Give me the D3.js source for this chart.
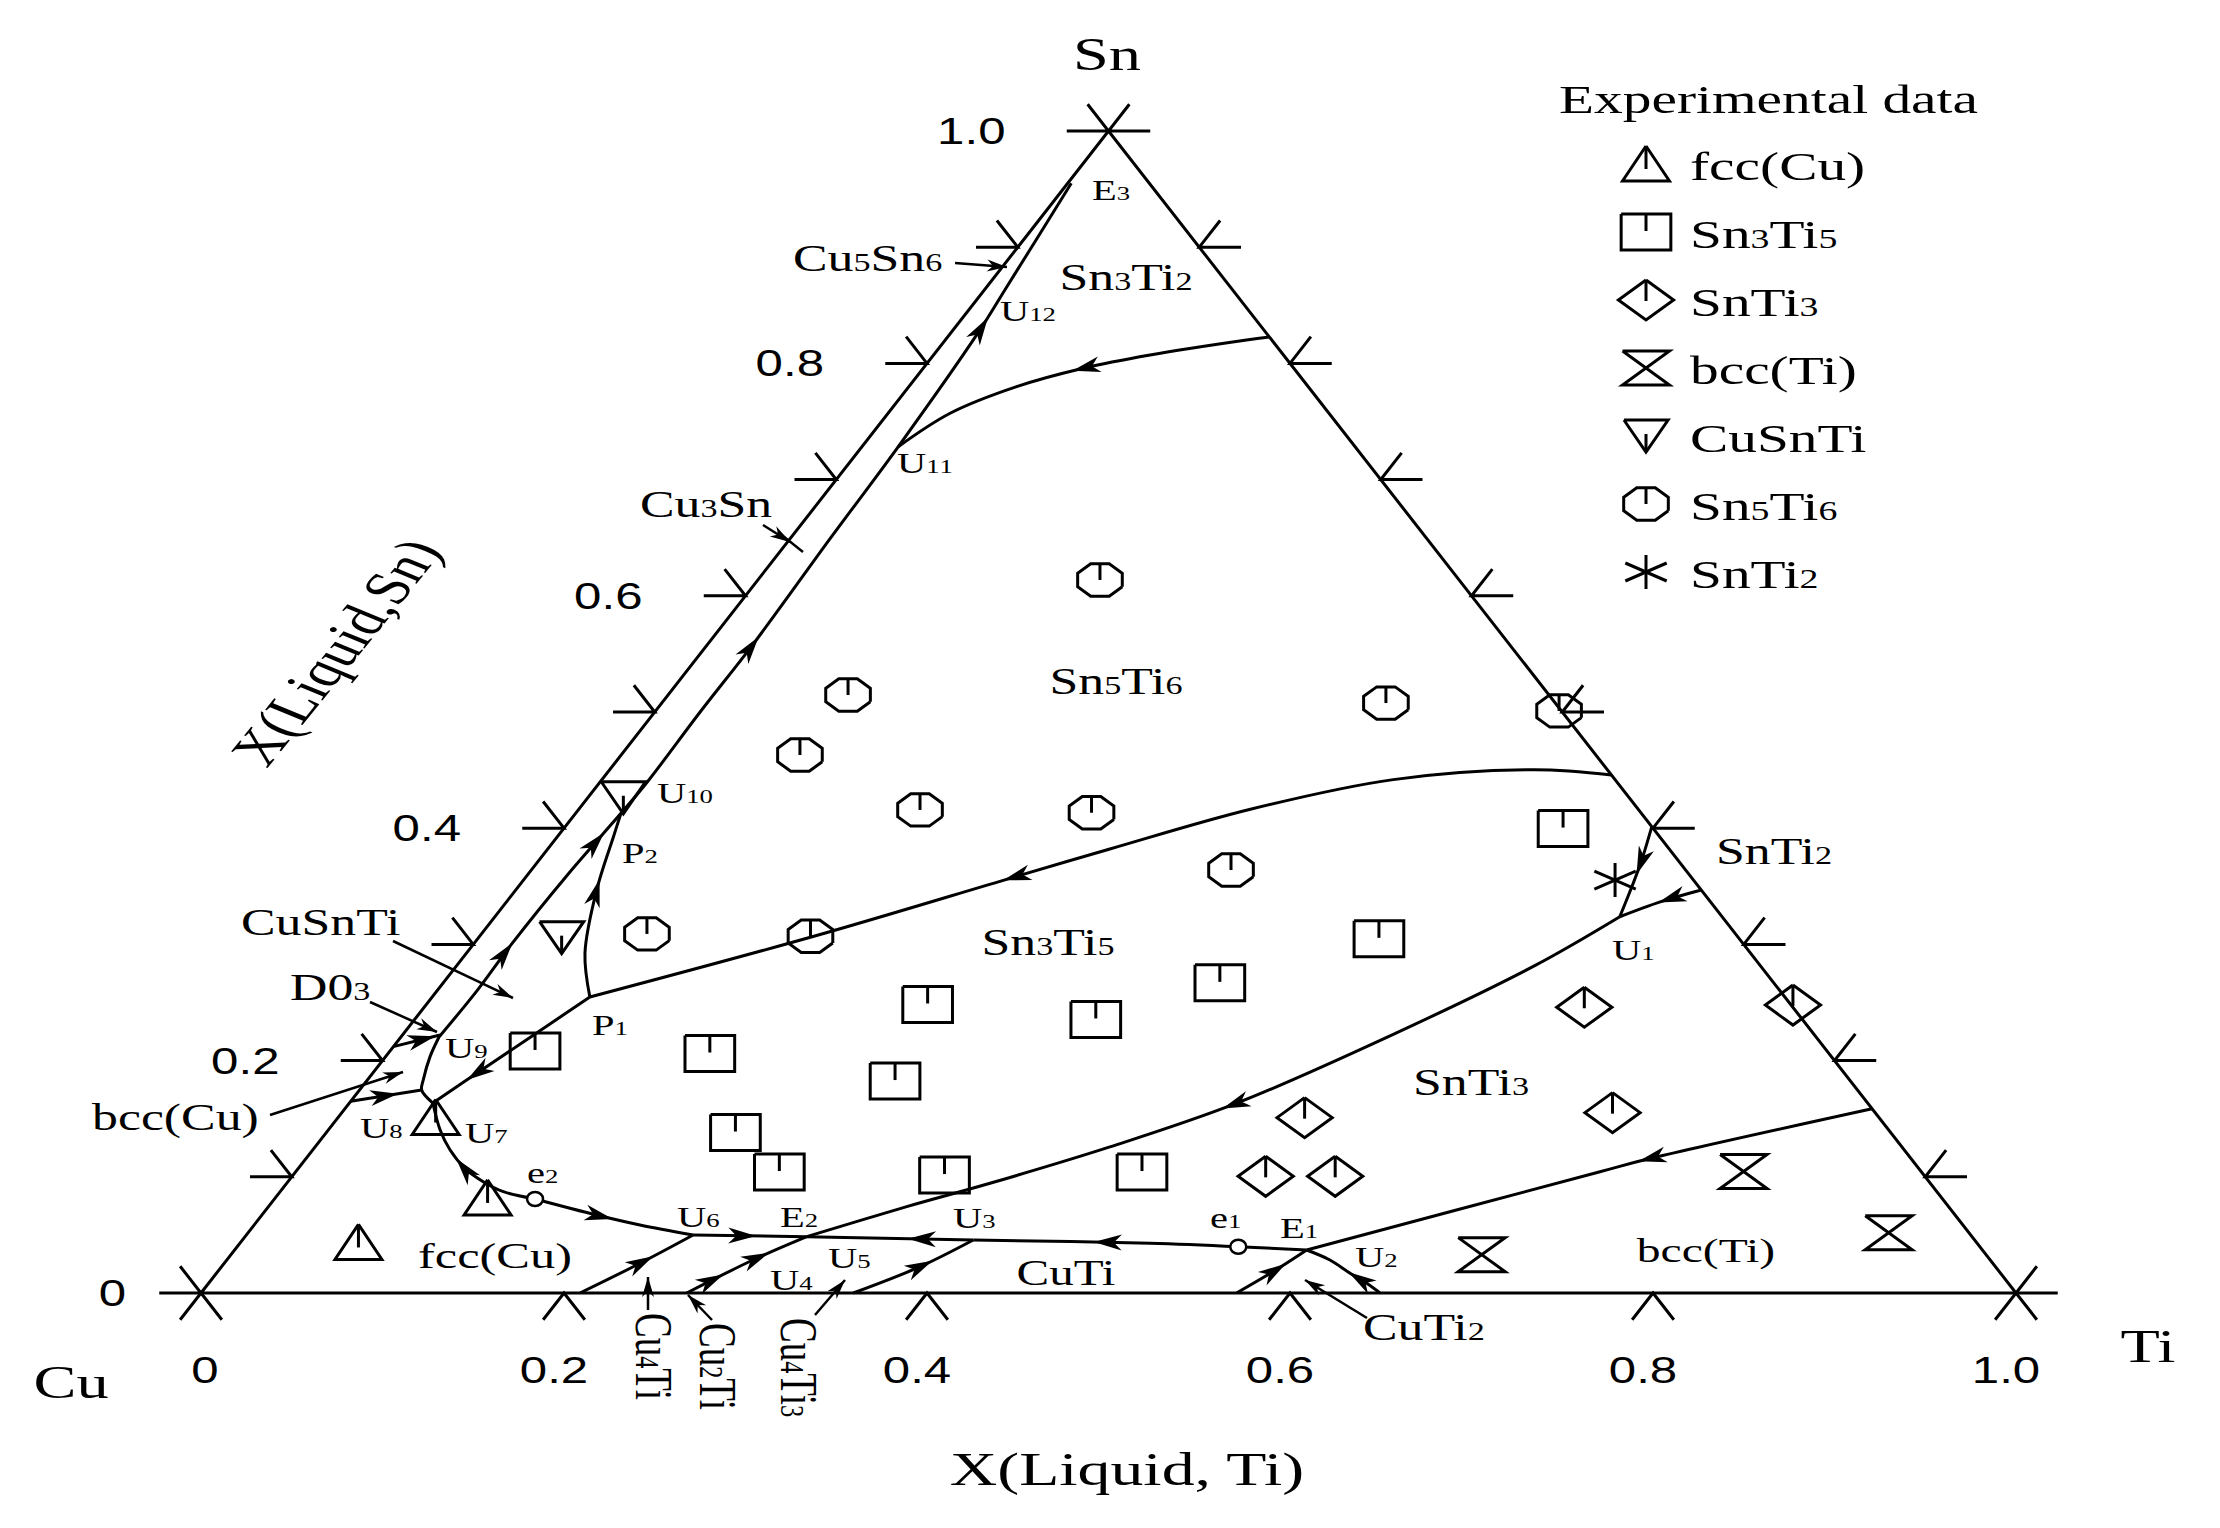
<!DOCTYPE html>
<html><head><meta charset="utf-8">
<script src="https://cdn.jsdelivr.net/npm/d3@7"></script>
<style>body{margin:0;background:#fff}svg{display:block}</style>
</head><body>
<svg id="c" width="2220" height="1528"></svg>
<script>
// ---------- DATA (compositions as [x(Ti), x(Sn)]) ----------
const bottomTicks = [0, 0.2, 0.4, 0.6, 0.8, 1.0];
const sideTicks = [0, 0.1, 0.2, 0.3, 0.4, 0.5, 0.6, 0.7, 0.8, 0.9, 1.0];
const sideTickLabels = [0, 0.2, 0.4, 0.6, 0.8, 1.0];

// univariant lines (stored in the direction of falling temperature)
const lineEdgeU11 = [[0.1773,0.8227],[0.1660,0.8201],[0.1193,0.8072],[0.0882,0.7958],[0.0594,0.7800],[0.0342,0.7571],[0.0200,0.7283]];
const lineU9E3 = [[0.021,0.221],[0.022,0.26],[0.021,0.30],[0.022,0.36],[0.025,0.413],[0.026,0.44],[0.025,0.50],[0.025,0.56],[0.022,0.65],[0.020,0.728],[0.015,0.826],[0.011,0.866],[0.007,0.906],[0.002,0.955]];
const lineEdgeP1 = [[0.5542,0.4458],[0.5097,0.4503],[0.4360,0.4418],[0.3705,0.4165],[0.3097,0.3821],[0.2683,0.3575],[0.1842,0.3070],[0.0869,0.2547]];
const lineP1P2 = [[0.0869,0.2547],[0.0654,0.2923],[0.0446,0.3468],[0.0309,0.3927],[0.0250,0.4128]];
const lineP1U7 = [[0.0869,0.2547],[0.0574,0.1891],[0.0460,0.1635]];
const lineU9U7 = [[0.0207,0.2220],[0.0245,0.2034],[0.0308,0.1833],[0.0342,0.1747],[0.0460,0.1635]];
const lineEdgeU8 = [[0.0,0.165],[0.0342,0.1747]];
const lineEdgeU9 = [[0.0,0.212],[0.0207,0.2220]];
const lineE2U7 = [[0.1436,0.0809],[0.1230,0.0872],[0.1076,0.0958],[0.0918,0.1073],[0.0757,0.1231],[0.0616,0.1403],[0.0460,0.1635]];
const lineE2U6 = [[0.1436,0.0809],[0.1844,0.0671],[0.2126,0.0585],[0.2462,0.0499]];
const lineU6E2 = [[0.2462,0.0499],[0.3095,0.0485]];
const lineU3E2 = [[0.4027,0.0456],[0.3095,0.0485]];
const lineE1U3 = [[0.5516,0.0398],[0.5015,0.0428],[0.4027,0.0456]];
const lineE1E1 = [[0.5516,0.0398],[0.5907,0.0370]];
const lineCu4Ti = [[0.2088,0],[0.2291,0.0256],[0.2462,0.0499]];
const lineCu2Ti = [[0.2676,0],[0.2899,0.0284],[0.3095,0.0485]];
const lineCu4Ti3 = [[0.3594,0],[0.3848,0.0226],[0.4027,0.0456]];
const lineCuTiE1 = [[0.5706,0],[0.5815,0.0183],[0.5907,0.0370]];
const lineCuTi2E1 = [[0.6496,0],[0.6381,0.0083],[0.6246,0.0170],[0.6078,0.0284],[0.5907,0.0370]];
const lineEdgeE1 = [[0.8414,0.1586],[0.7395,0.1153],[0.7186,0.1044],[0.5907,0.0370]];
const lineU1E2 = [[0.6198,0.3238],[0.5940,0.2817],[0.5456,0.2226],[0.4892,0.1636],[0.4379,0.1257],[0.3875,0.0944],[0.3517,0.0743],[0.3095,0.0485]];
const lineEdgeU1a = [[0.5987,0.4013],[0.6075,0.3726],[0.6128,0.3526],[0.6198,0.3238]];
const lineEdgeU1b = [[0.6532,0.3468],[0.6360,0.3368],[0.6198,0.3238]];

// binary points
const binaryPoints = [[0.1436,0.0809],[0.5516,0.0398]];

// experimental data
const expFccCu = [[0.0538,0.151],[0.117,0.0818],[0.065,0.0435]];
const expSn3Ti5 = [[0.5506,0.3997],[0.4966,0.3048],[0.4279,0.2669],[0.3753,0.2354],[0.2762,0.2483],[0.1773,0.2061],[0.0799,0.2083],[0.2912,0.1824],[0.2254,0.1381],[0.2666,0.1041],[0.3589,0.1015],[0.4664,0.1041]];
const expSnTi3 = [[0.7532,0.2478],[0.6392,0.2459],[0.5326,0.1509],[0.7001,0.1552],[0.5364,0.1004],[0.5747,0.1004]];
const expBccTi = [[0.7976,0.1046],[0.9039,0.0519],[0.6891,0.0330]];
const expCuSnTi = [[0.0196,0.4262],[0.0458,0.3058]];
const expSn5Ti6 = [[0.1885,0.6136],[0.0992,0.5146],[0.0985,0.4630],[0.1883,0.4157],[0.2840,0.4133],[0.3990,0.5077],[0.4978,0.5009],[0.3855,0.3640],[0.0912,0.3090],[0.1823,0.3070]];
const expSnTi2 = [[0.6014,0.3554]];

const legendNames = ['fcc(Cu)','Sn_3Ti_5','SnTi_3','bcc(Ti)','CuSnTi','Sn_5Ti_6','SnTi_2'];
const legendShapes = ['triUp','square','diamond','hourglass','triDown','octagon','star'];

// ---------- LAYOUT ----------
const SERIF = "'Liberation Serif','Times New Roman',serif";
const SANS = "'Liberation Sans',Arial,sans-serif";
const STRETCH = 1.4;
const X = d3.scaleLinear().domain([0,1]).range([201,2016]);
const Y = d3.scaleLinear().domain([0,1]).range([1293,131]);
const P = d => [X(d[0] + d[1]/2), Y(d[1])];

const svg = d3.select('#c');
svg.append('rect').attr('width',2220).attr('height',1528).attr('fill','#fff');

function addText(parent, x, y, s, o) {
  const sx = o.sx ?? STRETCH;
  const t = parent.append('text')
    .attr('transform', `translate(${x},${y}) scale(${sx},1)` + (o.rot ? ` rotate(${o.rot})` : ''))
    .attr('font-family', o.family || SERIF)
    .attr('font-size', o.size)
    .attr('text-anchor', o.anchor || 'start')
    .attr('fill', '#000');
  let i = 0;
  while (i < s.length) {
    if (s[i] === '_') { t.append('tspan').attr('font-size', o.size*0.66).text(s[i+1]); i += 2; }
    else { let j = i; while (j < s.length && s[j] !== '_') j++; t.append('tspan').text(s.slice(i,j)); i = j; }
  }
  return t;
}

// triangle frame
const frame = svg.append('g').attr('fill','none').attr('stroke','#000').attr('stroke-width',3);
frame.append('path').attr('d', d3.line()([[0,0],[1,0],[0,1],[0,0]].map(P))).attr('stroke-linejoin','miter');

const TL = 0.023;
sideTicks.forEach(v => {
  frame.append('path').attr('d', d3.line()([[-TL,v],[0,v],[-TL,v+TL]].map(P)));
  frame.append('path').attr('d', d3.line()([[1-v+TL,v],[1-v,v],[1-v,v+TL]].map(P)));
});
bottomTicks.forEach(v => {
  frame.append('path').attr('d', d3.line()([[v,-TL],[v,0],[v+TL,-TL]].map(P)));
});

// tick labels
const tl = svg.append('g');
const fmt = v => v === 0 ? '0' : d3.format('.1f')(v);
sideTickLabels.forEach(v => {
  const [x,y] = P([0,v]);
  addText(tl, x - (v === 0 ? 75 : 103), y+13, fmt(v), {size:37, family:SANS, anchor:'end', sx:1.33});
});
bottomTicks.forEach(v => {
  const [x,y] = P([v,0]);
  addText(tl, x - (v === 0 ? -4 : 10), y+90, fmt(v), {size:37, family:SANS, anchor:'middle', sx:1.33});
});

// axis titles
addText(svg, 1107, 70, 'Sn', {size:46, anchor:'middle'});
addText(svg, 71, 1398, 'Cu', {size:46, anchor:'middle'});
addText(svg, 2148, 1362, 'Ti', {size:46, anchor:'middle'});
addText(svg, 1127, 1485, 'X(Liquid, Ti)', {size:47, anchor:'middle'});
addText(svg, 355, 660, 'X(Liquid,Sn)', {size:47, anchor:'middle', rot:-60});

// ---------- univariant lines with arrows ----------
const lines = [
  {d:lineEdgeU11, a:[0.48]},
  {d:lineU9E3, a:[0.10,0.235,0.47,0.84]},
  {d:lineEdgeP1, a:[0.58]},
  {d:lineP1P2, a:[0.57]},
  {d:lineP1U7, a:[0.72]},
  {d:lineU9U7, a:[]},
  {d:lineEdgeU8, a:[0.5]},
  {d:lineEdgeU9, a:[0.65]},
  {d:lineE2U7, a:[0.52]},
  {d:lineE2U6, a:[0.42]},
  {d:lineU6E2, a:[0.45]},
  {d:lineU3E2, a:[0.32]},
  {d:lineE1U3, a:[0.5]},
  {d:lineE1E1, a:[]},
  {d:lineCu4Ti, a:[0.55]},
  {d:lineCu2Ti, a:[0.22,0.6]},
  {d:lineCu4Ti3, a:[0.56]},
  {d:lineCuTiE1, a:[0.55]},
  {d:lineCuTi2E1, a:[0.3]},
  {d:lineEdgeE1, a:[0.39]},
  {d:lineU1E2, a:[0.49]},
  {d:lineEdgeU1a, a:[0.4]},
  {d:lineEdgeU1b, a:[0.38]},
];
const gl = svg.append('g');
const lineGen = d3.line().curve(d3.curveCatmullRom.alpha(0.5));
const head = 'M0,0 L-28,-8 L-20,0 L-28,8 Z';
lines.forEach(L => {
  const p = gl.append('path').attr('d', lineGen(L.d.map(P))).attr('fill','none')
    .attr('stroke','#000').attr('stroke-width',3);
  const node = p.node(), len = node.getTotalLength();
  L.a.forEach(t => {
    const s = t*len + 12;
    const a = node.getPointAtLength(Math.min(len, s)), b = node.getPointAtLength(Math.max(0, s-4));
    const ang = Math.atan2(a.y-b.y, a.x-b.x)*180/Math.PI;
    gl.append('path').attr('d', head).attr('fill','#000')
      .attr('transform', `translate(${a.x},${a.y}) rotate(${ang})`);
  });
});
binaryPoints.forEach(d => {
  const [x,y] = P(d);
  gl.append('ellipse').attr('cx',x).attr('cy',y).attr('rx',8).attr('ry',7).attr('fill','#fff').attr('stroke','#000').attr('stroke-width',2.5);
});

// ---------- markers ----------
function marker(parent, type, x, y) {
  const g = parent.append('g').attr('transform', `translate(${x},${y}) scale(1.38,1)`)
    .attr('fill','none').attr('stroke','#000').attr('stroke-width',3);
  const seg = (pts) => g.append('path').attr('d', d3.line()(pts)).attr('vector-effect','non-scaling-stroke');
  if (type === 'triUp') { seg([[0,-18],[17,17],[-17,17],[0,-18]]); seg([[0,-18],[0,5]]); }
  if (type === 'square') { seg([[-18,-18],[18,-18],[18,18],[-18,18],[-18,-18]]); seg([[0,-18],[0,-1]]); }
  if (type === 'diamond') { seg([[0,-20],[20,0],[0,20],[-20,0],[0,-20]]); seg([[0,-20],[0,1]]); }
  if (type === 'hourglass') { seg([[-17,-17],[17,-17],[-17,17],[17,17],[-17,-17]]); }
  if (type === 'triDown') { seg([[-16,-16],[16,-16],[0,16],[-16,-16]]); seg([[0,-2],[0,16]]); }
  if (type === 'octagon') {
    const pts = d3.range(9).map(i => { const a = (i*45+22.5)*Math.PI/180; return [17.5*Math.cos(a), 17.5*Math.sin(a)]; });
    seg(pts); seg([[0,-16.5],[0,0]]);
  }
  if (type === 'star') { seg([[0,-17],[0,17]]); seg([[-15,-9],[15,9]]); seg([[-15,9],[15,-9]]); }
}
const gm = svg.append('g');
[[expFccCu,'triUp'],[expSn3Ti5,'square'],[expSnTi3,'diamond'],[expBccTi,'hourglass'],
 [expCuSnTi,'triDown'],[expSn5Ti6,'octagon'],[expSnTi2,'star']].forEach(([arr,type]) => {
  arr.forEach(d => { const [x,y] = P(d); marker(gm, type, x, y); });
});

// ---------- legend ----------
const lg = svg.append('g');
addText(lg, 1559, 113, 'Experimental data', {size:41});
legendNames.forEach((n,i) => {
  const y = 164 + i*68;
  marker(lg, legendShapes[i], 1646, y);
  addText(lg, 1690, y+16, n, {size:41});
});

// ---------- annotations ----------
const ann = svg.append('g');
const regionLabels = [
  ['Sn_3Ti_2',1126,290,37],['Sn_5Ti_6',1116,694,37],['Sn_3Ti_5',1048,955,37],['SnTi_3',1471,1095,37],
  ['SnTi_2',1774,864,37],['bcc(Ti)',1706,1262,34],['CuTi',1066,1285,35],['fcc(Cu)',495,1268,36]];
regionLabels.forEach(([s,x,y,f]) => addText(ann, x, y, s, {size:f, anchor:'middle'}));

const pointLabels = [
  ['E_3',1092,200],['U_1_2',1000,321],['U_1_1',897,473],['U_1_0',657,803],['P_2',622,863],['P_1',592,1035],
  ['U_9',445,1058],['U_8',360,1138],['U_7',465,1143],['e_2',527,1183],['U_6',677,1227],['E_2',780,1227],
  ['U_3',953,1228],['U_5',828,1268],['U_4',770,1290],['e_1',1210,1228],['E_1',1280,1238],['U_2',1355,1267],['U_1',1612,960]];
pointLabels.forEach(([s,x,y]) => addText(ann, x, y, s, {size:30, sx:1.35}));

const pointerLabels = [
  ['Cu_5Sn_6',793,271,0],['Cu_3Sn',640,517,0],['CuSnTi',241,935,0],['D0_3',290,1000,0],['bcc(Cu)',92,1130,0],
  ['CuTi_2',1363,1340,0],['Cu_4Ti',636,1313,90],['Cu_2Ti',700,1323,90],['Cu_4Ti_3',781,1318,90]];
pointerLabels.forEach(([s,x,y,r]) => addText(ann, x, y, s, {size:37, rot:r}));

const pointerArrows = [
  [[955,263],[1007,267]],[[763,525],[790,542]],[[393,941],[513,998]],[[370,1002],[437,1032]],
  [[270,1115],[403,1072]],[[648,1310],[648,1277]],[[712,1320],[688,1295]],[[815,1315],[845,1280]],
  [[1367,1318],[1305,1280]]];
const smallHead = 'M0,0 L-20,-6 L-14,0 L-20,6 Z';
pointerArrows.forEach(([a,b]) => {
  ann.append('line').attr('x1',a[0]).attr('y1',a[1]).attr('x2',b[0]).attr('y2',b[1]).attr('stroke','#000').attr('stroke-width',2.5);
  const ang = Math.atan2(b[1]-a[1], b[0]-a[0])*180/Math.PI;
  ann.append('path').attr('d', smallHead).attr('fill','#000').attr('transform',`translate(${b[0]},${b[1]}) rotate(${ang})`);
});
// short bar across the Cu3Sn pointer tip
ann.append('line').attr('x1',778).attr('y1',532).attr('x2',803).attr('y2',552).attr('stroke','#000').attr('stroke-width',2.5);
</script></body></html>
